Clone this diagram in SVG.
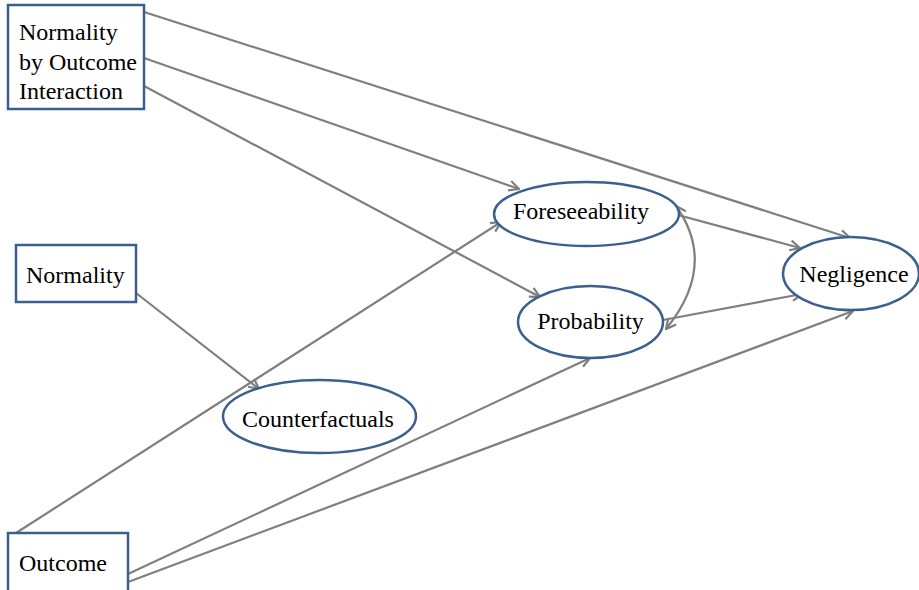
<svg xmlns="http://www.w3.org/2000/svg" width="919" height="590" viewBox="0 0 919 590">
  <defs>
    <style>
      .box { fill: #ffffff; stroke: #3b5f8f; stroke-width: 2.5; }
      .node { fill: #ffffff; stroke: #3b5f8f; stroke-width: 2.5; }
      .lbl { font-size: 24px; fill: #000000; }
      .mid { text-anchor: middle; }
      .edge { fill: none; stroke: #7f7f7f; stroke-width: 2.2; marker-end: url(#chev); }
      .both { marker-start: url(#chev); }
    </style>
    <marker id="chev" viewBox="0 0 12 12" refX="11" refY="6" markerWidth="12" markerHeight="12" markerUnits="userSpaceOnUse" orient="auto-start-reverse">
      <path d="M1,1 L11,6 L1,11" fill="none" stroke="#7f7f7f" stroke-width="2.2"/>
    </marker>
  </defs>

  <rect width="919" height="590" fill="#ffffff"/>

  <!-- connectors -->
  <g id="connectors">
    <line class="edge" x1="144" y1="12" x2="850" y2="238"/>
    <line class="edge" x1="144" y1="58" x2="519" y2="189"/>
    <line class="edge" x1="144" y1="86" x2="540" y2="297"/>
    <line class="edge" x1="136" y1="293" x2="259" y2="389"/>
    <line class="edge" x1="16" y1="533" x2="501" y2="222"/>
    <line class="edge" x1="128" y1="574" x2="590" y2="358"/>
    <line class="edge" x1="128" y1="582" x2="853" y2="311"/>
    <line class="edge" x1="678" y1="215" x2="800" y2="248"/>
    <line class="edge" x1="663" y1="320" x2="802" y2="294"/>
    <path class="edge both" d="M676,206 Q718,265 666,329"/>
  </g>

  <g font-family="'Liberation Serif', 'DejaVu Serif', 'Times New Roman', serif">
    <!-- rectangular nodes -->
    <g id="interaction">
      <rect class="box" x="8" y="5" width="136" height="104"/>
      <text class="lbl" x="19" y="40">Normality</text>
      <text class="lbl" x="19" y="70">by Outcome</text>
      <text class="lbl" x="19" y="99">Interaction</text>
    </g>
    <g id="normality">
      <rect class="box" x="16" y="245" width="120" height="57"/>
      <text class="lbl" x="26" y="283">Normality</text>
    </g>
    <g id="outcome">
      <rect class="box" x="8" y="533" width="120" height="62"/>
      <text class="lbl" x="19" y="571">Outcome</text>
    </g>

    <!-- elliptical nodes -->
    <g id="foreseeability">
      <ellipse class="node" cx="586.5" cy="214" rx="92.5" ry="32"/>
      <text class="lbl mid" x="581" y="219">Foreseeability</text>
    </g>
    <g id="probability">
      <ellipse class="node" cx="590.5" cy="322" rx="72.5" ry="36"/>
      <text class="lbl mid" x="590.5" y="329">Probability</text>
    </g>
    <g id="negligence">
      <ellipse class="node" cx="851" cy="273.5" rx="68" ry="36.5"/>
      <text class="lbl mid" x="854" y="282">Negligence</text>
    </g>
    <g id="counterfactuals">
      <ellipse class="node" cx="319.5" cy="416.5" rx="96.5" ry="36.5"/>
      <text class="lbl mid" x="318" y="427">Counterfactuals</text>
    </g>
  </g>
</svg>
